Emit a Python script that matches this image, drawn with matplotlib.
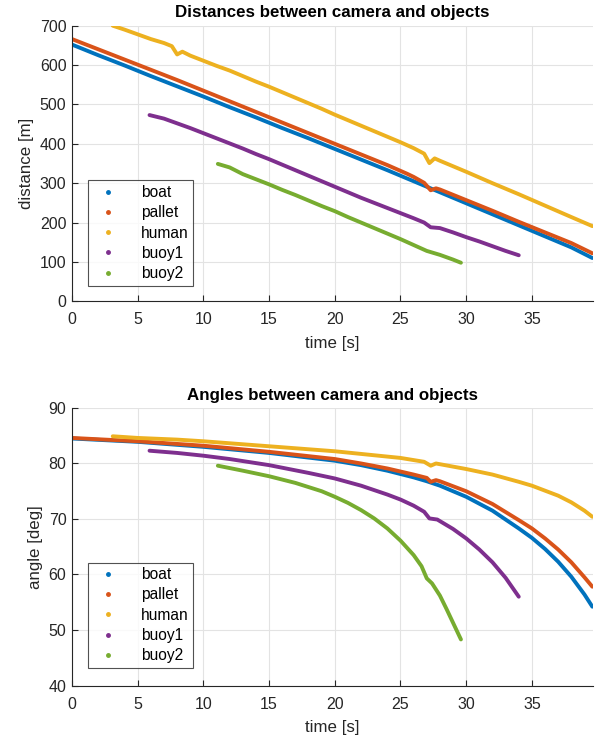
import matplotlib
matplotlib.use("Agg")
import matplotlib.pyplot as plt
from matplotlib.lines import Line2D

plt.rcParams['font.family'] = ['Liberation Sans', 'DejaVu Sans']

names = ["boat", "pallet", "human", "buoy1", "buoy2"]
colors = ["#0072BD", "#D95319", "#EDB120", "#7E2F8E", "#77AC30"]

# ---- distances [m] ----
boat_t = [0, 2, 4, 6, 8, 10, 12, 14, 16, 18, 20, 22, 24, 26, 27, 28, 30, 32, 34, 36, 38, 39.6]
boat_d = [652, 625, 599, 572, 546, 520, 493, 467, 440, 414, 387, 360, 333, 305, 291, 277, 249, 221, 193, 165, 137, 110]

pallet_t = [0, 2, 4, 6, 8, 10, 12, 14, 16, 18, 20, 22, 24, 25.5, 26, 26.8, 27.3, 27.7, 28, 30, 32, 34, 36, 38, 39.6]
pallet_d = [666, 640, 614, 588, 562, 535, 508, 481, 454, 427, 400, 373, 346, 324, 316, 301, 282, 287, 284, 257, 230, 202, 175, 148, 122]

human_t = [3.1, 4, 5, 6, 7, 7.6, 8.0, 8.4, 9, 10, 11, 12, 13, 14, 15, 16, 17, 18, 19, 20, 21, 22, 23, 24, 25, 26, 26.8, 27.2, 27.6, 28, 30, 32, 34, 36, 38, 39.6]
human_d = [700, 690, 678, 666, 656, 648, 627, 634, 624, 611, 598, 586, 572, 558, 545, 531, 517, 503, 489, 474, 460, 446, 432, 418, 404, 389, 375, 351, 363, 357, 329, 300, 272, 243, 214, 191]

buoy1_t = [5.9, 7, 8, 9, 10, 11, 12, 13, 14, 15, 16, 17, 18, 19, 20, 21, 22, 23, 24, 25, 26, 26.8, 27.3, 28, 29, 30, 31, 32, 33, 34]
buoy1_d = [473, 464, 452, 440, 427, 414, 401, 388, 374, 361, 347, 333, 319, 305, 291, 277, 263, 250, 237, 224, 211, 200, 188, 186, 175, 163, 152, 140, 128, 117]

buoy2_t = [11.1, 12, 13, 14, 15, 16, 17, 18, 19, 20, 21, 22, 23, 24, 25, 26, 27, 28, 29, 29.6]
buoy2_d = [349, 340, 323, 310, 297, 283, 270, 256, 242, 229, 214, 200, 186, 172, 158, 143, 128, 118, 106, 98]

# ---- angles [deg] ----
boat_ta = [0, 5, 10, 15, 20, 22, 24, 26, 27, 28, 30, 32, 34, 35, 36, 37, 38, 39, 39.6]
boat_a = [84.5, 83.9, 83.0, 81.9, 80.5, 79.7, 78.7, 77.5, 76.8, 76.0, 74.0, 71.5, 68.3, 66.6, 64.6, 62.3, 59.6, 56.4, 54.2]

pallet_ta = [0, 5, 10, 15, 20, 22, 24, 26, 27, 27.3, 27.7, 28, 30, 32, 34, 35, 36, 37, 38, 39, 39.6]
pallet_a = [84.6, 84.0, 83.2, 82.1, 80.8, 80.0, 79.1, 78.0, 77.4, 76.7, 77.0, 76.8, 75.0, 72.7, 69.8, 68.3, 66.5, 64.5, 62.2, 59.5, 57.8]

human_ta = [3.1, 5, 8, 10, 15, 20, 25, 26.8, 27.3, 27.7, 30, 32, 34, 35, 36, 37, 38, 39, 39.6]
human_a = [84.9, 84.6, 84.3, 84.0, 83.1, 82.2, 81.0, 80.3, 79.6, 80.0, 79.0, 78.0, 76.7, 76.0, 75.1, 74.2, 73.0, 71.5, 70.4]

buoy1_ta = [5.9, 8, 10, 12, 15, 18, 20, 22, 24, 25, 26, 26.8, 27.2, 27.8, 29, 30, 31, 32, 33, 34]
buoy1_a = [82.3, 81.9, 81.4, 80.8, 79.7, 78.3, 77.3, 76.0, 74.4, 73.5, 72.4, 71.3, 70.1, 69.9, 68.2, 66.5, 64.5, 62.2, 59.4, 56.0]

buoy2_ta = [11.1, 13, 15, 17, 19, 20, 21, 22, 23, 24, 25, 26, 26.6, 27.0, 27.4, 28, 28.5, 29, 29.6]
buoy2_a = [79.6, 78.7, 77.7, 76.5, 75.0, 74.0, 72.9, 71.6, 70.1, 68.3, 66.1, 63.5, 61.5, 59.3, 58.4, 56.2, 53.8, 51.3, 48.3]

dist_series = [(boat_t, boat_d), (pallet_t, pallet_d), (human_t, human_d), (buoy1_t, buoy1_d), (buoy2_t, buoy2_d)]
ang_series = [(boat_ta, boat_a), (pallet_ta, pallet_a), (human_ta, human_a), (buoy1_ta, buoy1_a), (buoy2_ta, buoy2_a)]

fig = plt.figure(figsize=(6.03, 7.36), dpi=100)
ax1 = fig.add_axes([0.1194, 0.5906, 0.864, 0.3745])
ax2 = fig.add_axes([0.1194, 0.0686, 0.864, 0.3771])

axcol = "#262626"

def style(ax, ylim, yticks, title, ylabel, legend_anchor):
    ax.set_xlim(0, 39.65)
    ax.set_ylim(*ylim)
    ax.set_xticks([0, 5, 10, 15, 20, 25, 30, 35])
    ax.set_yticks(yticks)
    ax.grid(True, color="#e3e3e3", linewidth=0.8)
    ax.set_axisbelow(True)
    for s in ["top", "right"]:
        ax.spines[s].set_visible(False)
    for s in ["left", "bottom"]:
        ax.spines[s].set_color(axcol)
        ax.spines[s].set_linewidth(0.8)
    ax.tick_params(direction="in", length=4, width=0.8, colors=axcol, labelsize=11.5)
    ax.tick_params(axis="x", pad=8)
    ax.tick_params(axis="y", pad=4)
    ax.set_title(title, fontsize=12.2, fontweight="bold", color="black", pad=6)
    ax.set_xlabel("time [s]", fontsize=12.2, color=axcol, labelpad=6)
    ax.set_ylabel(ylabel, fontsize=12.2, color=axcol, labelpad=4)
    handles = [Line2D([], [], color=c, marker=".", linestyle="none", markersize=5) for c in colors]
    leg = ax.legend(handles, names, loc="lower left", bbox_to_anchor=legend_anchor,
                    borderaxespad=0, fontsize=11.2, frameon=True, fancybox=False,
                    handlelength=2.0, handletextpad=1.1, labelspacing=0.34,
                    borderpad=0.3, edgecolor=axcol)
    leg.get_frame().set_linewidth(0.8)

for (t, d), c in zip(dist_series, colors):
    ax1.plot(t, d, color=c, linewidth=2.8, solid_capstyle="round", solid_joinstyle="round")
for (t, a), c in zip(ang_series, colors):
    ax2.plot(t, a, color=c, linewidth=2.8, solid_capstyle="round", solid_joinstyle="round")

style(ax1, (0, 700), [0, 100, 200, 300, 400, 500, 600, 700], "Distances between camera and objects", "distance [m]", (0.031, 0.056))
style(ax2, (40, 90), [40, 50, 60, 70, 80, 90], "Angles between camera and objects", "angle [deg]", (0.031, 0.063))

fig.savefig("out.png", dpi=100)
